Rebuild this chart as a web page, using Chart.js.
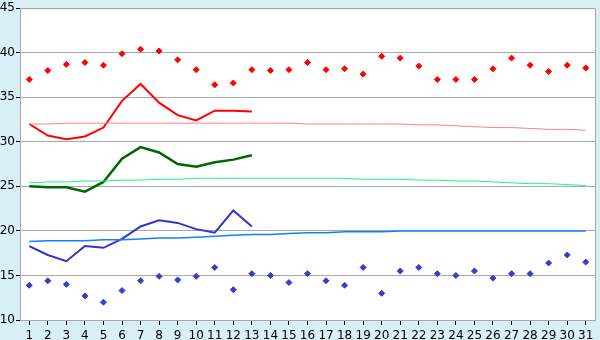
<!DOCTYPE html>
<html>
<head>
<meta charset="utf-8">
<script src="https://cdn.jsdelivr.net/npm/chart.js@4.4.0/dist/chart.umd.min.js"></script>
<style>
  html, body { margin: 0; padding: 0; background: #d9eff6; }
  #wrap { width: 600px; height: 340px; }
</style>
</head>
<body>
<div id="wrap"><canvas id="myChart"></canvas></div>
<script>
// dias del mes
const days = [];
for (let d = 1; d <= 31; d++) days.push(String(d));

// records maximos (rombos rojos)
const recordHigh = [37.0, 38.0, 38.7, 38.9, 38.6, 39.9, 40.4, 40.2, 39.2, 38.1, 36.4, 36.6, 38.1, 38.0, 38.1,
                    38.9, 38.1, 38.2, 37.6, 39.6, 39.4, 38.5, 37.0, 37.0, 37.0, 38.2, 39.4, 38.6, 37.9, 38.6, 38.3];
// records minimos (rombos azules)
const recordLow = [13.9, 14.4, 14.0, 12.7, 12.0, 13.3, 14.4, 14.9, 14.5, 14.9, 15.9, 13.4, 15.2, 15.0, 14.2,
                   15.2, 14.4, 13.9, 15.9, 13.0, 15.5, 15.9, 15.2, 15.0, 15.5, 14.7, 15.2, 15.2, 16.4, 17.3, 16.5];

// valores del mes actual (dias 1-13)
const maxTemp = [32.0, 30.7, 30.3, 30.6, 31.6, 34.6, 36.5, 34.4, 33.0, 32.4, 33.5, 33.5, 33.4];
const meanTemp = [25.0, 24.9, 24.9, 24.4, 25.5, 28.1, 29.4, 28.8, 27.5, 27.2, 27.7, 28.0, 28.5];
const minTemp = [18.3, 17.3, 16.6, 18.3, 18.1, 19.1, 20.5, 21.2, 20.9, 20.2, 19.8, 22.3, 20.5];

// normales
const normalMax = [32.0, 32.0, 32.1, 32.1, 32.1, 32.1, 32.1, 32.1, 32.1, 32.1, 32.1, 32.1, 32.1, 32.1, 32.1,
                   32.0, 32.0, 32.0, 32.0, 32.0, 32.0, 31.9, 31.9, 31.8, 31.7, 31.6, 31.6, 31.5, 31.4, 31.4, 31.3];
const normalMean = [25.4, 25.5, 25.5, 25.6, 25.6, 25.7, 25.7, 25.8, 25.8, 25.9, 25.9, 25.9, 25.9, 25.9, 25.9,
                    25.9, 25.9, 25.9, 25.8, 25.8, 25.8, 25.7, 25.7, 25.6, 25.6, 25.5, 25.4, 25.3, 25.3, 25.2, 25.1];
const normalMin = [18.8, 18.9, 18.9, 18.9, 19.0, 19.0, 19.1, 19.2, 19.2, 19.3, 19.4, 19.5, 19.6, 19.6, 19.7,
                   19.8, 19.8, 19.9, 19.9, 19.9, 20.0, 20.0, 20.0, 20.0, 20.0, 20.0, 20.0, 20.0, 20.0, 20.0, 20.0];

const yTicks = [10, 15, 20, 25, 30, 35, 40, 45];

// fondo blanco del area y borde gris
const plotArea = {
  id: "plotArea",
  beforeDraw(chart) {
    const a = chart.chartArea, ctx = chart.ctx;
    ctx.save();
    ctx.fillStyle = "#ffffff";
    ctx.fillRect(a.left, a.top, a.right - a.left, a.bottom - a.top);
    ctx.restore();
  },
  afterDraw(chart) {
    const a = chart.chartArea, ctx = chart.ctx;
    ctx.save();
    ctx.strokeStyle = "#a8a8a8";
    ctx.lineWidth = 1;
    ctx.beginPath();
    ctx.moveTo(a.left, a.top + 0.5);
    ctx.lineTo(a.right + 0.5, a.top + 0.5);
    ctx.lineTo(a.right + 0.5, a.bottom);
    ctx.stroke();
    ctx.restore();
  }
};

function lineSet(data, color, width) {
  return { type: "line", data: data, borderColor: color, borderWidth: width,
           pointRadius: 0, fill: false, tension: 0 };
}
function markSet(data, color) {
  return { type: "line", data: data, showLine: false, pointStyle: "rectRot",
           pointRadius: 3, pointBackgroundColor: color, pointBorderColor: color, pointBorderWidth: 1 };
}

new Chart(document.getElementById("myChart"), {
  type: "line",
  data: {
    labels: days,
    datasets: [
      lineSet(normalMax, "#ff8080", 1),
      lineSet(normalMean, "#22f08a", 1),
      lineSet(normalMin, "#1080ff", 1.5),
      lineSet(maxTemp, "#ff0000", 2),
      lineSet(meanTemp, "#006600", 2.5),
      lineSet(minTemp, "#3333cc", 2),
      markSet(recordHigh, "#ff0000"),
      markSet(recordLow, "#3a3acc")
    ]
  },
  options: {
    responsive: true,
    maintainAspectRatio: false,
    animation: false,
    layout: { padding: { top: 5, right: 5, left: 0, bottom: 0 } },
    plugins: { legend: { display: false }, tooltip: { enabled: false } },
    scales: {
      x: {
        offset: true,
        grid: { offset: false, drawOnChartArea: false, drawTicks: true, tickLength: 5, tickColor: "#000" },
        border: { color: "#a8a8a8" },
        ticks: { color: "#000", padding: 4, maxRotation: 0, autoSkip: false,
                 font: { family: "DejaVu Sans", size: 12 } },
        afterFit(scale) { scale.height = 20; }
      },
      y: {
        min: 10, max: 45,
        afterBuildTicks(scale) { scale.ticks = yTicks.map(v => ({ value: v })); },
        grid: { color: "#a8a8a8", tickLength: 4, tickColor: "#000" },
        border: { color: "#a8a8a8" },
        ticks: { color: "#000", padding: 1, font: { family: "DejaVu Sans", size: 12 } },
        afterFit(scale) { scale.width = 20; }
      }
    }
  },
  plugins: [plotArea]
});
</script>
</body>
</html>
